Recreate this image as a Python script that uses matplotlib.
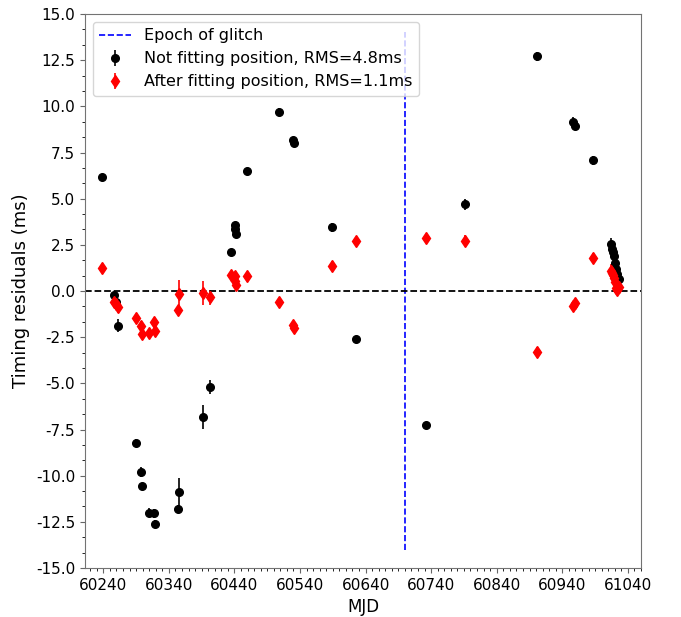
import numpy as np
import matplotlib
matplotlib.use("Agg")
import matplotlib.pyplot as plt
from matplotlib.ticker import MultipleLocator, AutoMinorLocator

plt.rcParams['axes.unicode_minus'] = False

# TOA epochs (MJD) and residuals (ms) before / after fitting the position
mjd = np.array([
    60237.6, 60256.0, 60259.0, 60262.5, 60290.0, 60297.0, 60299.0, 60310.0,
    60317.0, 60319.0, 60354.0, 60355.0, 60391.5, 60402.0, 60434.0, 60441.0,
    60441.5, 60442.0, 60459.5, 60508.0, 60530.0, 60531.0, 60588.0, 60626.0,
    60732.0, 60792.0, 60901.0, 60957.0, 60960.0, 60986.5,
    61014.0, 61016.0, 61018.0, 61019.0, 61021.0, 61022.5, 61024.0, 61026.5,
])
res_nofit = np.array([
    6.17, -0.22, -0.60, -1.89, -8.24, -9.80, -10.56, -12.00,
    -12.03, -12.60, -11.80, -10.90, -6.80, -5.20, 2.10, 3.55,
    3.35, 3.10, 6.48, 9.70, 8.20, 8.02, 3.44, -2.58,
    -7.28, 4.69, 12.70, 9.16, 8.93, 7.08,
    2.52, 2.28, 2.10, 1.92, 1.50, 1.20, 0.90, 0.63,
])
res_fit = np.array([
    1.23, -0.58, -0.71, -0.85, -1.45, -1.89, -2.34, -2.30,
    -1.70, -2.16, -1.03, -0.16, -0.13, -0.35, 0.87, 0.83,
    0.56, 0.34, 0.83, -0.62, -1.83, -1.98, 1.36, 2.73,
    2.86, 2.73, -3.30, -0.80, -0.65, 1.79,
    1.10, 0.95, 0.85, 0.70, 0.50, 0.15, 0.05, 0.20,
])
toa_err = np.array([
    0.15, 0.15, 0.15, 0.35, 0.20, 0.25, 0.15, 0.25,
    0.25, 0.20, 0.20, 0.75, 0.65, 0.40, 0.15, 0.15,
    0.15, 0.15, 0.15, 0.20, 0.15, 0.15, 0.25, 0.15,
    0.20, 0.30, 0.25, 0.25, 0.15, 0.25,
    0.35, 0.20, 0.20, 0.20, 0.20, 0.20, 0.20, 0.20,
])
glitch_mjd = 60700.0

fig = plt.figure(figsize=(6.81, 6.17), dpi=100)
ax = fig.add_axes([0.1248, 0.0794, 0.8164, 0.8979])

ax.vlines(glitch_mjd, -14, 14, colors='b', linestyles='--', linewidth=1.2,
          label='Epoch of glitch')
ax.errorbar(mjd, res_nofit, yerr=toa_err, fmt='o', color='k', ms=5.5,
            elinewidth=1.2, capsize=0,
            label='Not fitting position, RMS=4.8ms')
ax.errorbar(mjd, res_fit, yerr=toa_err, fmt='d', color='r', ms=6.5,
            elinewidth=1.2, capsize=0,
            label='After fitting position, RMS=1.1ms')
ax.axhline(0, color='k', linestyle='--', linewidth=1.3)

ax.set_xlim(60212, 61060)
ax.set_ylim(-15, 15)
ax.set_xticks(np.arange(60240, 61041, 100))
ax.xaxis.set_minor_locator(MultipleLocator(10))
ax.yaxis.set_major_locator(MultipleLocator(2.5))
ax.yaxis.set_minor_locator(AutoMinorLocator(3))
ax.tick_params(labelsize=11, color='0.4')
for sp in ax.spines.values():
    sp.set_color('0.45')

ax.set_xlabel('MJD', fontsize=12)
ax.set_ylabel('Timing residuals (ms)', fontsize=13)
ax.legend(loc='upper left', fontsize=11.5)

fig.savefig('out.png')
